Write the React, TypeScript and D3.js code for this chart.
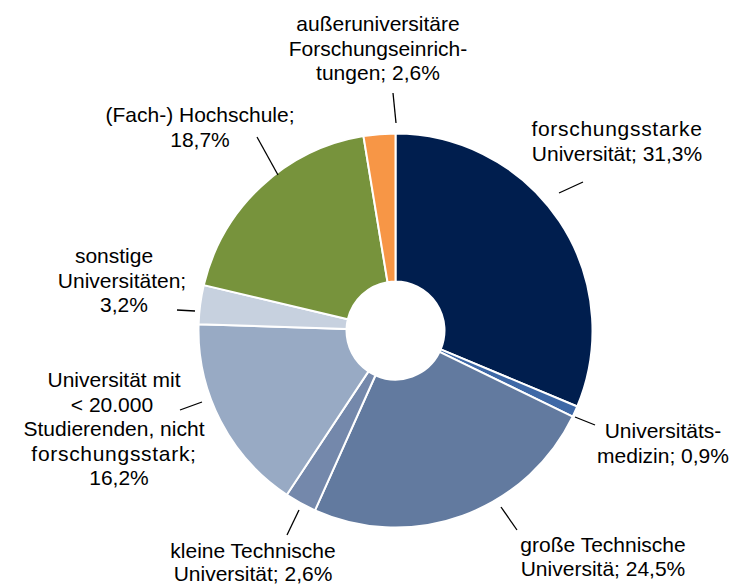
import React from "react";
import * as d3 from "d3";

const categories = [
  "forschungsstarke Universität",
  "Universitätsmedizin",
  "große Technische Universität",
  "kleine Technische Universität",
  "Universität mit < 20.000 Studierenden, nicht forschungsstark",
  "sonstige Universitäten",
  "(Fach-) Hochschule",
  "außeruniversitäre Forschungseinrichtungen",
];
const values = [31.3, 0.9, 24.5, 2.6, 16.2, 3.2, 18.7, 2.6];
const colors = ["#001E4E", "#3E68A6", "#627A9F", "#7488AB", "#98AAC4", "#C7D1DF", "#77933C", "#F79646"];

const labelLines: string[][] = [
  ["forschungsstarke", "Universität; 31,3%"],
  ["Universitäts-", "medizin; 0,9%"],
  ["große Technische", "Universitä; 24,5%"],
  ["kleine Technische", "Universität; 2,6%"],
  ["Universität mit", "< 20.000", "Studierenden, nicht", "forschungsstark;", "16,2%"],
  ["sonstige", "Universitäten;", "3,2%"],
  ["(Fach-) Hochschule;", "18,7%"],
  ["außeruniversitäre", "Forschungseinrich-", "tungen; 2,6%"],
];

// label layout: center x, first baseline y, line height, per-line x shifts, leader line endpoints
const labelLayout = [
  { x: 617, y: 136, lh: 25, dx: [0, 0], leader: [559, 193, 583, 182] },
  { x: 663, y: 438, lh: 25, dx: [0, 0], leader: [575, 417, 595, 425] },
  { x: 603, y: 552, lh: 24, dx: [0, 0], leader: [501, 507, 517, 530] },
  { x: 253, y: 558, lh: 23, dx: [0, 0], leader: [299, 510, 287, 535] },
  { x: 114, y: 387, lh: 24.5, dx: [0, -2, 0, 0, 5], leader: [180, 410, 202, 402] },
  { x: 121, y: 263, lh: 24.5, dx: [-7, 1, 3], leader: [177, 310, 195, 311] },
  { x: 200, y: 122, lh: 25, dx: [0, 0], leader: [257, 137, 278, 175] },
  { x: 378, y: 31, lh: 24.5, dx: [0, 0, 0], leader: [393, 93, 396, 123] },
];

const W = 731;
const H = 588;
const cx = 395.5;
const cy = 330.5;
const outerR = 197;
const innerR = 49;

export default function App() {
  const pie = d3
    .pie<number>()
    .sort(null)
    .value((d) => d)
    .startAngle(0)
    .endAngle(2 * Math.PI);
  const arcs = pie(values);
  const arc = d3.arc<d3.PieArcDatum<number>>().innerRadius(innerR).outerRadius(outerR);

  return (
    <svg
      width={W}
      height={H}
      style={{ position: "absolute", left: 0, top: 0, display: "block", background: "#fff" }}
      fontFamily="'Liberation Sans', Arial, sans-serif"
    >
      <g transform={`translate(${cx},${cy})`}>
        {arcs.map((a, i) => (
          <path key={categories[i]} d={arc(a) || ""} fill={colors[i]} stroke="#fff" strokeWidth={2} strokeLinejoin="round" />
        ))}
      </g>
      {labelLayout.map((l, i) => (
        <g key={"lab" + i}>
          <line x1={l.leader[0]} y1={l.leader[1]} x2={l.leader[2]} y2={l.leader[3]} stroke="#000" strokeWidth={1.3} />
          <text textAnchor="middle" fontSize={21} fill="#000">
            {labelLines[i].map((t, j) => (
              <tspan
                key={j}
                x={l.x + (l.dx[j] || 0)}
                y={l.y + j * l.lh}
                letterSpacing={t.startsWith("forschungsstark") ? 0.7 : 0}
              >
                {t}
              </tspan>
            ))}
          </text>
        </g>
      ))}
    </svg>
  );
}
